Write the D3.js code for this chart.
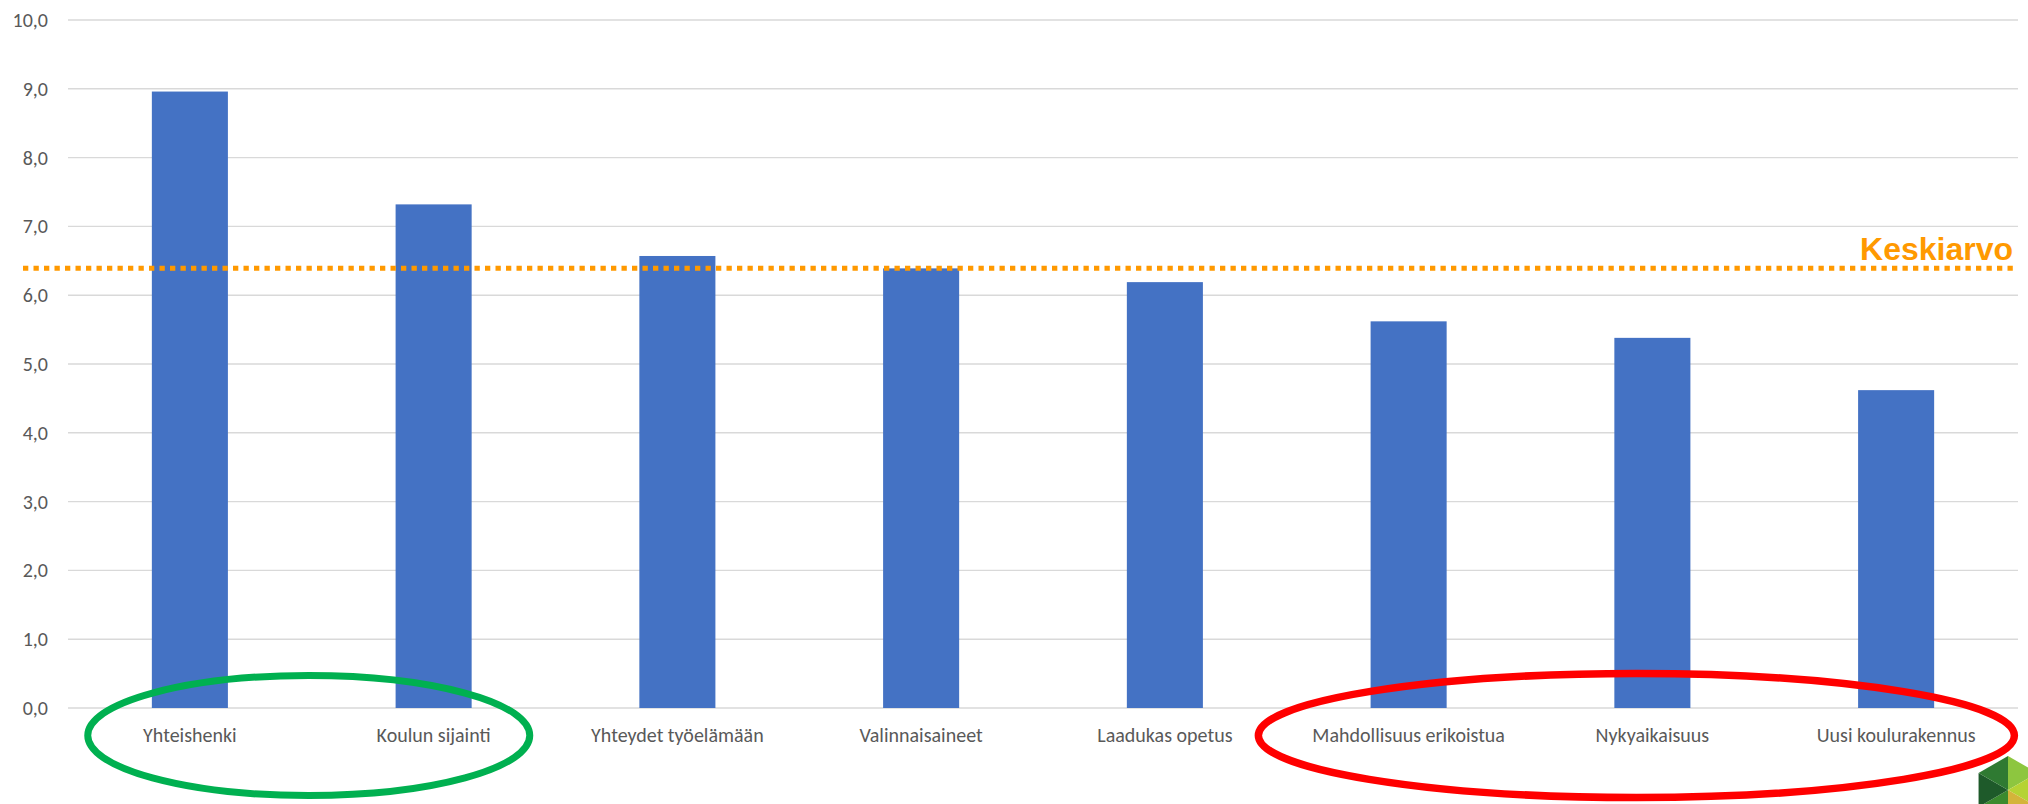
<!DOCTYPE html>
<html>
<head>
<meta charset="utf-8">
<script src="https://cdn.jsdelivr.net/npm/d3@7"></script>
<style>
  html, body { margin: 0; padding: 0; background: #ffffff; }
  svg { display: block; }
</style>
</head>
<body>
<svg id="chart" width="2028" height="804"></svg>
<script>
// ---- data ----
const categories = ["Yhteishenki", "Koulun sijainti", "Yhteydet työelämään", "Valinnaisaineet",
  "Laadukas opetus", "Mahdollisuus erikoistua", "Nykyaikaisuus", "Uusi koulurakennus"];
const values = [8.96, 7.32, 6.57, 6.39, 6.19, 5.62, 5.38, 4.62];
const averageValue = 6.39;
const averageLabel = "Keskiarvo";
const yTicks = [0, 1, 2, 3, 4, 5, 6, 7, 8, 9, 10];
const greenGroup = ["Yhteishenki", "Koulun sijainti"];
const redGroup = ["Mahdollisuus erikoistua", "Nykyaikaisuus", "Uusi koulurakennus"];

// ---- layout ----
const W = 2028, H = 804;
const margin = { top: 20, right: 10, bottom: 96, left: 68 };
const iw = W - margin.left - margin.right;
const ih = H - margin.top - margin.bottom;

const svg = d3.select("#chart");
const g = svg.append("g").attr("transform", `translate(${margin.left},${margin.top})`);

const x = d3.scaleBand().domain(categories).range([0, iw]).paddingInner(0.688).paddingOuter(0.344);
const y = d3.scaleLinear().domain([0, 10]).range([ih, 0]);
const fmt = v => d3.format(".1f")(v).replace(".", ",");
const labelFont = "Carlito, Lato, 'Open Sans', sans-serif";

// gridlines
g.append("g").selectAll("line").data(yTicks).join("line")
  .attr("x1", 0).attr("x2", iw)
  .attr("y1", d => y(d)).attr("y2", d => y(d))
  .attr("stroke", "#d9d9d9").attr("stroke-width", 1.4);

// y axis labels
const yAxis = g.append("g").call(d3.axisLeft(y).tickValues(yTicks).tickFormat(fmt).tickSize(0).tickPadding(20));
yAxis.select(".domain").remove();
yAxis.selectAll("text").attr("fill", "#595959").style("font-family", labelFont).style("font-size", "20px");

// bars
g.append("g").selectAll("rect").data(values).join("rect")
  .attr("x", (d, i) => x(categories[i]))
  .attr("width", x.bandwidth())
  .attr("y", d => y(d))
  .attr("height", d => y(0) - y(d))
  .attr("fill", "#4472c4");

// x axis labels
const xAxis = g.append("g").attr("transform", `translate(0,${ih})`)
  .call(d3.axisBottom(x).tickSize(0).tickPadding(20));
xAxis.select(".domain").remove();
xAxis.selectAll("text").attr("fill", "#595959").style("font-family", labelFont).style("font-size", "20px");

// average line
g.append("line")
  .attr("x1", 23 - margin.left).attr("x2", iw - 2)
  .attr("y1", y(averageValue)).attr("y2", y(averageValue))
  .attr("stroke", "#ff9900").attr("stroke-width", 5).attr("stroke-dasharray", "5.3 5.2");
g.append("text")
  .attr("x", iw - 5).attr("y", y(averageValue) - 8)
  .attr("text-anchor", "end")
  .attr("fill", "#ff9900")
  .style("font-family", "Arial, 'Liberation Sans', sans-serif")
  .style("font-weight", "bold").style("font-size", "32px")
  .text(averageLabel);

// annotation ellipses
const bandMid = names => {
  const xs = names.map(n => x(n) + x.bandwidth() / 2);
  return (d3.min(xs) + d3.max(xs)) / 2;
};
svg.append("ellipse")
  .attr("cx", margin.left + bandMid(greenGroup) - 3).attr("cy", 735.5)
  .attr("rx", 221).attr("ry", 60)
  .attr("fill", "none").attr("stroke", "#00b050").attr("stroke-width", 7);
svg.append("ellipse")
  .attr("cx", margin.left + bandMid(redGroup) - 16).attr("cy", 735.5)
  .attr("rx", 378).attr("ry", 62)
  .attr("fill", "none").attr("stroke", "#ff0000").attr("stroke-width", 7.5);

// logo (decorative, bottom-right)
const logo = svg.append("g").attr("transform", "translate(2008,790)");
const r = 34;
const pts = d3.range(6).map(k => {
  const a = -Math.PI / 2 + k * Math.PI / 3;
  return [r * Math.cos(a), r * Math.sin(a)];
});
const triColors = ["#8dc63f", "#b5d334", "#d4b43a", "#3b8a2e", "#1e5a2a", "#2f7a32"];
pts.forEach((p, k) => {
  const q = pts[(k + 1) % 6];
  logo.append("path").attr("d", `M0,0L${p[0]},${p[1]}L${q[0]},${q[1]}Z`).attr("fill", triColors[k]);
});
</script>
</body>
</html>
